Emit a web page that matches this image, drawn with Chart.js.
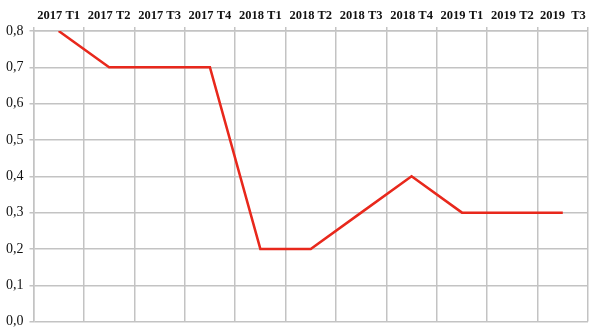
<!DOCTYPE html>
<html>
<head>
<meta charset="utf-8">
<script src="https://cdn.jsdelivr.net/npm/chart.js@4/dist/chart.umd.min.js"></script>
<style>
  html, body { margin: 0; padding: 0; background: #fff; }
  #wrap { width: 600px; height: 336px; }
</style>
</head>
<body>
<div id="wrap"><canvas id="myChart"></canvas></div>
<script>
const categories = ['2017 T1', '2017 T2', '2017 T3', '2017 T4', '2018 T1', '2018 T2', '2018 T3', '2018 T4', '2019 T1', '2019 T2', '2019  T3'];
const values = [0.8, 0.7, 0.7, 0.7, 0.2, 0.2, 0.3, 0.4, 0.3, 0.3, 0.3];

const gridColor = '#c3c3c3';

const ctx = document.getElementById('myChart');
new Chart(ctx, {
  type: 'line',
  data: {
    labels: categories,
    datasets: [{
      data: values,
      borderColor: '#e8281c',
      borderWidth: 2.5,
      pointRadius: 0,
      tension: 0,
      fill: false
    }]
  },
  options: {
    responsive: true,
    maintainAspectRatio: false,
    animation: false,
    layout: { padding: { left: 0, right: 12, top: 4, bottom: 8 } },
    plugins: { legend: { display: false }, tooltip: { enabled: false } },
    scales: {
      x: {
        position: 'top',
        offset: true,
        grid: { offset: true, color: gridColor, lineWidth: 1.5, tickLength: 4 },
        border: { color: gridColor, width: 1.5 },
        ticks: {
          color: '#111',
          maxRotation: 0,
          autoSkip: false,
          padding: 4,
          font: { family: 'Liberation Serif', size: 12.5, weight: 'bold' }
        }
      },
      y: {
        min: 0,
        max: 0.8,
        grid: { color: gridColor, lineWidth: 1.5, tickLength: 4 },
        border: { color: gridColor, width: 1.5 },
        ticks: {
          stepSize: 0.1,
          color: '#111',
          padding: 6,
          font: { family: 'Liberation Serif', size: 14 },
          callback: v => v.toFixed(1).replace('.', ',')
        }
      }
    }
  }
});
</script>
</body>
</html>
